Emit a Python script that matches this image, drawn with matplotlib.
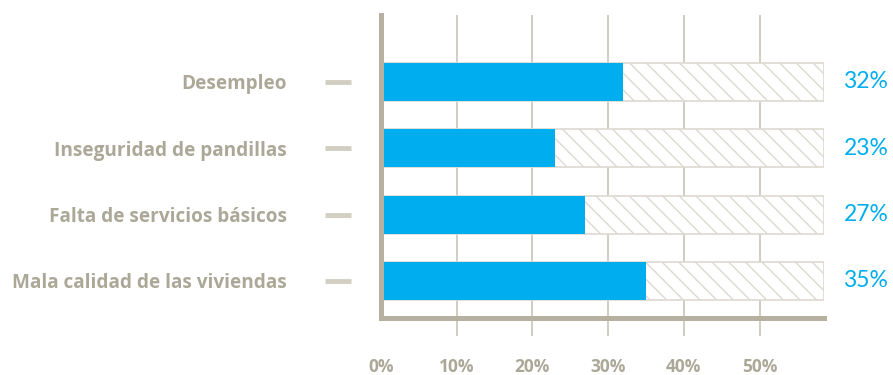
import numpy as np
import matplotlib.pyplot as plt

categorias = ['Desempleo', 'Inseguridad de pandillas',
              'Falta de servicios básicos', 'Mala calidad de las viviendas']
valores = [32, 23, 27, 35]
etiquetas = ['32%', '23%', '27%', '35%']
xticks = [0, 10, 20, 30, 40, 50]
xticklabels = ['0%', '10%', '20%', '30%', '40%', '50%']
tope = 58.5  # fondo rayado

azul = '#00adef'
gris = '#aca898'
spine_col = '#b5b09f'
grid_col = '#c9c5b8'
hatch_col = '#dcd9d1'

plt.rcParams['font.family'] = ['Open Sans', 'DejaVu Sans']
plt.rcParams['hatch.linewidth'] = 1.0

W, H = 893, 375
fig = plt.figure(figsize=(W / 100, H / 100), dpi=100)
# axes: x 381..824, y 15..318 (px)
ax = fig.add_axes([381 / W, 1 - 318 / H, (824 - 381) / W, (318 - 15) / H])

y = np.arange(len(categorias))
alto = 0.573

ax.barh(y, [tope] * len(y), height=alto, color='white', edgecolor=hatch_col,
        hatch='\\\\', linewidth=1.2, zorder=2)
ax.barh(y, valores, height=alto, color=azul, edgecolor='none', zorder=3)

ax.set_xlim(0, tope)
ax.set_ylim(3.56, -1.01)

# grid lines extending below the bottom spine
ax.vlines(xticks[1:], -0.06, 1, transform=ax.get_xaxis_transform(),
          color=grid_col, linewidth=1.2, clip_on=False, zorder=1)

for s in ['top', 'right']:
    ax.spines[s].set_visible(False)
for s in ['left', 'bottom']:
    ax.spines[s].set_color(spine_col)
    ax.spines[s].set_linewidth(3.6)
    ax.spines[s].set_zorder(4)

ax.set_xticks(xticks)
ax.set_xticklabels(xticklabels, fontsize=12.5, fontweight='bold', color=gris)
ax.tick_params(axis='x', length=0, pad=29)

ax.set_yticks(y)
ax.set_yticklabels(categorias, fontsize=13.7, fontweight='bold', color=gris)
ax.tick_params(axis='y', length=0, pad=68)

# short dashes beside the labels
ax.plot([-0.098] * len(y), y, linestyle='none', marker='_', markersize=19,
        markeredgewidth=3.5, color='#d2cec2', transform=ax.get_yaxis_transform(),
        clip_on=False)

for yi, t in zip(y, etiquetas):
    ax.annotate(t, xy=(1, yi), xycoords=('axes fraction', 'data'),
                xytext=(14, 0), textcoords='offset points',
                va='center', ha='left', fontsize=16.5, color=azul,
                family=['Lato', 'DejaVu Sans'])

fig.savefig('out.png', dpi=100)
